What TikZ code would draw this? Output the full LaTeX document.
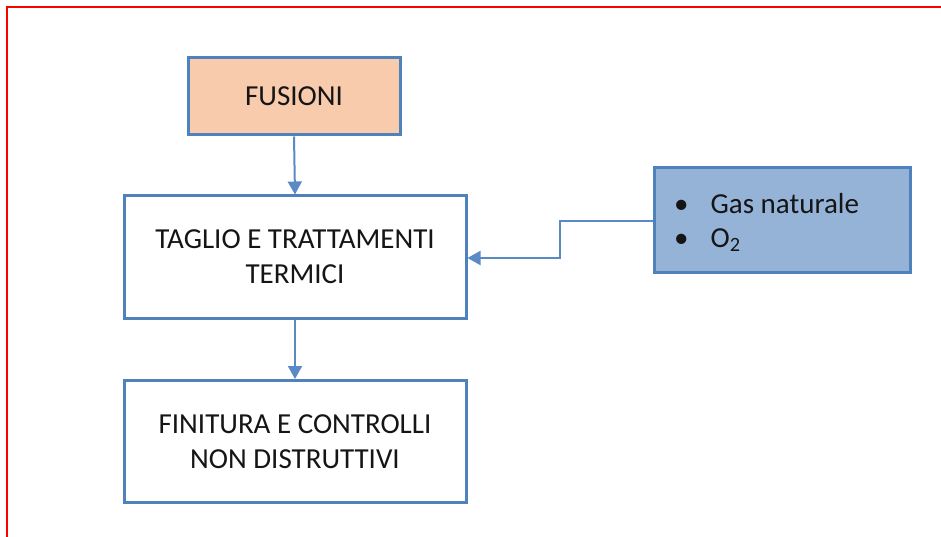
\documentclass[tikz,border=0pt]{standalone}
\usepackage{fontspec}
\setmainfont{Carlito}
\usetikzlibrary{arrows.meta}
\definecolor{boxline}{HTML}{4F81BD}
\definecolor{peach}{HTML}{F8CBAD}
\definecolor{gasfill}{HTML}{95B3D7}
\definecolor{linkline}{HTML}{5A8AC6}
\definecolor{txt}{HTML}{151515}
\tikzset{
  label text/.style={text=txt, font=\fontsize{29}{35}\selectfont},
  stage/.style={draw=boxline, line width=3pt, minimum width=342pt, minimum height=122pt,
    align=center, label text, inner sep=0pt},
  link/.style={draw=linkline, line width=2pt, -{Triangle[length=13pt,width=14pt]}},
}
\begin{document}
\begin{tikzpicture}[x=1pt,y=-1pt]
\useasboundingbox (0,0) rectangle (941,537);
% frame edges
\draw[red, line width=2pt] (7,537) -- (7,7) -- (941,7);
% process boxes
\node[stage, fill=peach, minimum width=212pt, minimum height=77pt] (fus) at (294,96.5) {FUSIONI};
\node[stage, fill=white] (tag) at (295,257) {TAGLIO E TRATTAMENTI\\TERMICI};
\node[stage, fill=white] (fin) at (295,441.5) {FINITURA E CONTROLLI\\NON DISTRUTTIVI};
% input box
\node[draw=boxline, line width=3pt, fill=gasfill, minimum width=256pt, minimum height=104pt, inner sep=0pt] (gas) at (782,220) {};
\node[label text, anchor=west, inner sep=0pt] (b1) at (674,204) {\textbullet\hspace{22pt}Gas naturale};
\node[label text, anchor=west, inner sep=0pt] (b2) at (674,240) {\textbullet\hspace{22pt}O\textsubscript{2}};
% connectors
\draw[link] (fus.south) -- (tag.north);
\draw[link] (tag.south) -- (fin.north);
\coordinate (k1) at (560,221);
\coordinate (k2) at (560,258);
\draw[link] (gas.west |- k1) -- (k1) -- (k2) -- (tag.east |- k2);
\end{tikzpicture}
\end{document}
